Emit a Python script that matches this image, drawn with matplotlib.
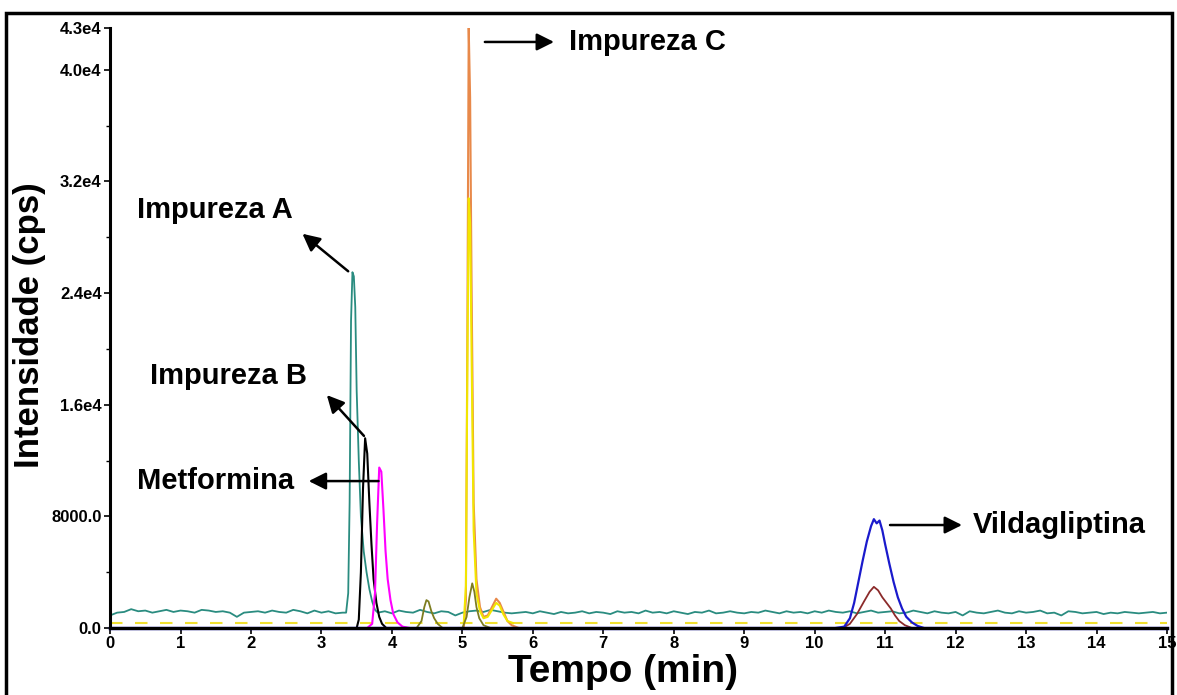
import numpy as np
import matplotlib

# Sin interfaz gráfica
matplotlib.use("Agg")

import matplotlib.pyplot as plt
from matplotlib.patches import Rectangle

plt.rcParams["font.family"] = ["Liberation Sans", "DejaVu Sans"]

# Ejes
Y_TICKS = [0, 8000, 16000, 24000, 32000, 40000, 43000]
Y_LABELS = ["0.0", "8000.0", "1.6e4", "2.4e4", "3.2e4", "4.0e4", "4.3e4"]
X_TICKS = list(range(0, 16))

# Impureza A (verde azulado): línea base con ruido + pico
teal_base1 = [900, 1100, 1150, 1350, 1200, 1250, 1100, 1200, 1300, 1150,
              1250, 1200, 1100, 1300, 1250, 1150, 1200, 1100, 800, 1100,
              1150, 1200, 1100, 1250, 1150, 1100, 1300, 1200, 1050, 1250,
              1100, 1200, 1050, 1100]
teal_peak_t = [3.35, 3.38, 3.40, 3.42, 3.44, 3.46, 3.48, 3.50, 3.53, 3.56,
               3.60, 3.64, 3.68, 3.72, 3.76]
teal_peak_y = [1100, 2500, 9000, 22000, 25500, 25200, 23000, 17000, 12000, 8000,
               5500, 4000, 2800, 1900, 1300]
teal_base2 = [1100, 1200, 1050, 1250, 1150, 1100, 1300, 1150, 1050, 1200,
              1150, 900, 1100, 1200, 1250, 1150, 1300, 1200, 1100, 1050,
              1100, 1150, 1050, 1200, 1100, 1000, 1150, 1050, 1100, 1200,
              1050, 1150, 1100, 1000, 1200, 1100, 1150, 1050, 1250, 1100,
              1150, 1050, 1200, 1100, 1000, 1150, 1100, 1250, 1050, 1100,
              1200, 1100, 1050, 1150, 1100, 1250, 1150, 1050, 1200, 1100,
              1150, 1050, 1200, 1100, 1250, 1150, 1100, 1200, 1050, 1150,
              1250, 1100, 1150, 1200, 1050, 1100, 1250, 1150, 1050, 1200,
              1100, 1050, 1150, 900, 1200, 1100, 1050, 1150, 1250, 1100,
              1050, 1200, 1100, 1150, 1250, 1050, 1100, 900, 1200, 1150,
              1050, 1100, 1150, 1000, 1100, 1050, 1150, 1100, 1050, 1100,
              1150, 1050, 1100]

# Impureza B (negro)
black_t = [3.40, 3.50, 3.53, 3.56, 3.59, 3.62, 3.65, 3.68, 3.71, 3.74, 3.78, 3.82, 3.86, 3.92, 4.20]
black_y = [0, 0, 600, 4000, 10000, 13600, 12500, 9000, 6000, 3500, 1800, 800, 300, 0, 0]

# Metformina (magenta)
magenta_t = [3.65, 3.72, 3.76, 3.79, 3.82, 3.85, 3.88, 3.91, 3.94, 3.98, 4.02, 4.08, 4.15, 4.25]
magenta_y = [0, 300, 2500, 7500, 11500, 11200, 8500, 5500, 3500, 2000, 1000, 400, 100, 0]

# Impureza C (naranja)
orange_t = [4.95, 5.02, 5.05, 5.07, 5.09, 5.11, 5.13, 5.16, 5.20, 5.25,
            5.30, 5.36, 5.42, 5.48, 5.53, 5.58, 5.64, 5.70, 5.80]
orange_y = [0, 0, 2000, 20000, 43000, 38000, 25000, 9000, 3500, 1500,
            800, 900, 1500, 2100, 1800, 1200, 500, 200, 0]

# Traza amarilla
yellow_t = [5.02, 5.05, 5.07, 5.09, 5.11, 5.13, 5.16, 5.20, 5.25, 5.30,
            5.36, 5.42, 5.48, 5.53, 5.58, 5.64, 5.72]
yellow_y = [350, 3000, 18000, 30800, 29000, 20000, 7000, 2500, 1200, 700,
            800, 1300, 1800, 1600, 1000, 500, 350]
yellow_base_t = [0, 15]
yellow_base_y = [350, 350]

# Traza oliva
olive_t = [4.35, 4.42, 4.46, 4.49, 4.52, 4.56, 4.60, 4.65, 4.72, 5.00,
           5.06, 5.10, 5.14, 5.17, 5.20, 5.24, 5.30, 5.40]
olive_y = [0, 500, 1500, 2000, 1900, 1200, 700, 300, 0, 0,
           800, 2200, 3200, 2600, 1500, 700, 200, 0]

# Vildagliptina (azul)
blue_t = [10.30, 10.42, 10.50, 10.56, 10.62, 10.68, 10.74, 10.80, 10.84, 10.88,
          10.92, 10.96, 11.00, 11.06, 11.12, 11.18, 11.24, 11.30, 11.38, 11.46, 11.55]
blue_y = [0, 100, 700, 1800, 3300, 4800, 6200, 7300, 7800, 7500,
          7700, 7000, 6000, 4600, 3300, 2200, 1400, 800, 400, 150, 0]

# Traza marrón
brown_t = [10.40, 10.50, 10.60, 10.70, 10.78, 10.84, 10.90, 10.96, 11.02, 11.08, 11.14, 11.20, 11.28, 11.38]
brown_y = [0, 300, 1000, 1900, 2600, 2950, 2700, 2200, 1800, 1400, 900, 500, 200, 0]

# Línea base azul marino
navy_t = [0, 15]
navy_y = [0, 0]

teal_t = list(np.round(np.arange(0, 3.31, 0.1), 2)) + teal_peak_t + list(np.round(np.arange(3.8, 15.01, 0.1), 2))
teal_y = teal_base1 + teal_peak_y + teal_base2

# Crear figura
fig = plt.figure(figsize=(11.77, 6.95), dpi=100)
ax = fig.add_axes([0.0935, 0.0964, 0.898, 0.8633])

ax.plot(yellow_base_t, yellow_base_y, color="#f0e030", lw=1.5, linestyle=(0, (6, 6)))
ax.plot(teal_t, teal_y, color="#2a8c80", lw=1.3)
ax.plot(black_t, black_y, color="black", lw=1.5)
ax.plot(magenta_t, magenta_y, color="#ff00ff", lw=1.5)
ax.plot(orange_t, orange_y, color="#e8894a", lw=1.5)
ax.plot(yellow_t, yellow_y, color="#f2e600", lw=1.5)
ax.plot(olive_t, olive_y, color="#7d7d20", lw=1.3)
ax.plot(brown_t, brown_y, color="#8b2a2a", lw=1.3)
ax.plot(blue_t, blue_y, color="#1a1acc", lw=1.6)
ax.plot(navy_t, navy_y, color="#000080", lw=2.5, clip_on=False)

# Anotaciones
arrow = dict(arrowstyle="-|>", color="black", lw=1.8, mutation_scale=26)
label_font = dict(fontsize=21, fontweight="bold", va="center")

ax.annotate("", xy=(2.70, 28380), xytext=(3.41, 25440), arrowprops=arrow)
ax.text(0.38, 29960, "Impureza A", ha="left", **label_font)

ax.annotate("", xy=(3.05, 16840), xytext=(3.63, 13620), arrowprops=arrow)
ax.text(0.57, 18060, "Impureza B", ha="left", **label_font)

ax.annotate("", xy=(2.78, 10530), xytext=(3.85, 10530), arrowprops=arrow)
ax.text(0.38, 10530, "Metformina", ha="left", **label_font)

ax.annotate("", xy=(6.34, 42000), xytext=(5.28, 42000), arrowprops=arrow)
ax.text(6.51, 42000, "Impureza C", ha="left", **label_font)

ax.annotate("", xy=(12.13, 7380), xytext=(11.03, 7380), arrowprops=arrow)
ax.text(12.25, 7380, "Vildagliptina", ha="left", **label_font)

# Configurar ejes
ax.set_xlim(0, 15)
ax.set_ylim(0, 43000)
ax.set_yticks(Y_TICKS)
ax.set_yticklabels(Y_LABELS)
ax.set_yticks(range(4000, 43000, 8000), minor=True)
ax.set_xticks(X_TICKS)
ax.set_xticklabels([str(x) for x in X_TICKS])

for side in ["top", "right"]:
    ax.spines[side].set_visible(False)
for side in ["left", "bottom"]:
    ax.spines[side].set_linewidth(2.2)

ax.tick_params(axis="both", which="major", labelsize=12, length=4, width=1.2, pad=2)
ax.tick_params(axis="y", which="minor", length=3, width=1)
for lbl in ax.get_xticklabels() + ax.get_yticklabels():
    lbl.set_fontweight("bold")

# Títulos de los ejes
fig.text(30 / 1177, 1 - 325 / 695, "Intensidade (cps)", rotation=90,
         ha="center", va="center", fontsize=25, fontweight="bold")
fig.text(623 / 1177, 1 - 672 / 695, "Tempo (min)",
         ha="center", va="center", fontsize=28, fontweight="bold")

# Marco exterior
fig.patches.append(Rectangle((6 / 1177, -0.02), 1166 / 1177, 682 / 695 + 0.02,
                             transform=fig.transFigure, fill=False, lw=2.5, ec="black"))

fig.savefig("out.png", dpi=100, facecolor="white")
plt.close(fig)
